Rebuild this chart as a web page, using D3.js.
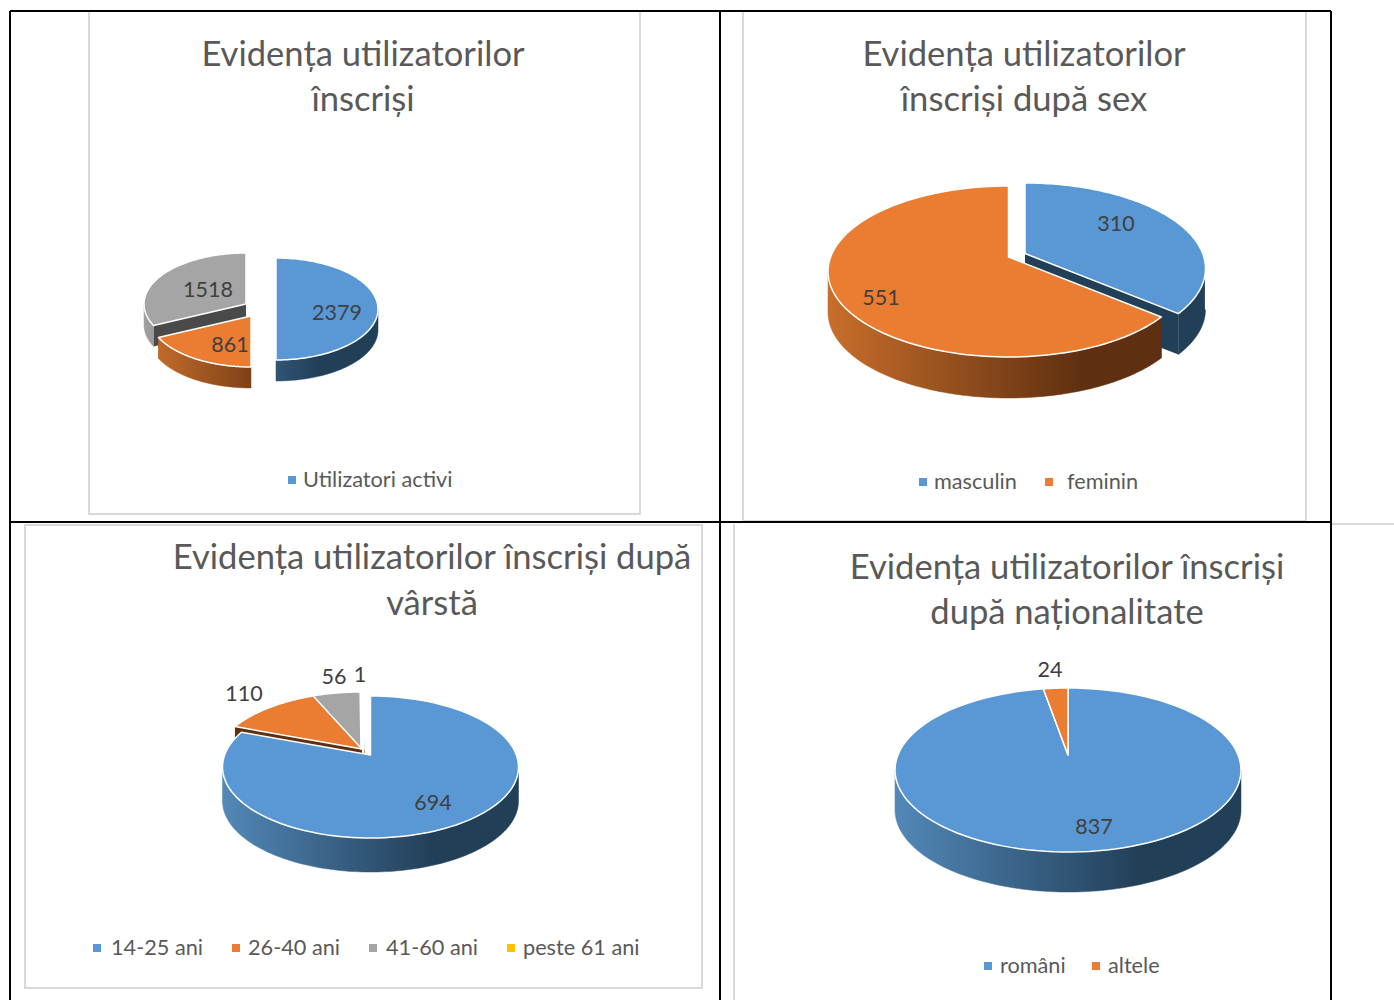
<!DOCTYPE html>
<html><head><meta charset="utf-8">
<script src="https://cdn.jsdelivr.net/npm/d3@7/dist/d3.min.js"></script>
<style>html,body{margin:0;padding:0;background:#fff;overflow:hidden}svg{display:block}text{font-family:Lato,"Open Sans",sans-serif}</style>
</head><body><svg id="c" width="1394" height="1000"></svg>
<script>
// ---- data ----
const activeCategories = ["Utilizatori activi"];
const activeValues = [2379, 861, 1518];
const sexCategories = ["masculin", "feminin"];
const sexValues = [310, 551];
const ageCategories = ["14-25 ani", "26-40 ani", "41-60 ani", "peste 61 ani"];
const ageValues = [694, 110, 56, 1];
const nationCategories = ["români", "altele"];
const nationValues = [837, 24];
const titleActive = ["Evidența utilizatorilor", "înscriși"];
const titleSex = ["Evidența utilizatorilor", "înscriși după sex"];
const titleAge = ["Evidența utilizatorilor înscriși după", "vârstă"];
const titleNation = ["Evidența utilizatorilor înscriși", "după naționalitate"];

// ---- styles ----
const FACE = ["#5a98d5", "#ea7d31", "#a5a5a5", "#ffc000"];
const WALL_L = ["#5288b8", "#c86e2b", "#a0a0a0", "#c09000"];
const WALL_R = ["#223f58", "#5e2f10", "#4a4a4a", "#604800"];
const INNER = ["#223f58", "#5e2f10", "#4a4a4a", "#604800"];

// ---- layout ----
const charts = [
 {values:activeValues, title:titleActive, titleX:363, titleY:[66,111], rx:102, ry:51, depth:21, order:[2,1,0],
  centers:[[276,309,0],[251,316,0],[246,304,0]],
  labels:[[337,312],[230,344],[208,289]],
  legend:activeCategories, legendColor:[0], legendY:480, legendMark:[288], legendText:[303]},
 {values:sexValues, title:titleSex, titleX:1024, titleY:[66,111], rx:180.5, ry:85.5, depth:41, order:[0,1], corner:true,
  centers:[[1025,268.5,-15],[1008.5,271.5,-14.5]],
  labels:[[1116,223],[881,297]],
  legend:sexCategories, legendColor:[0,1], legendY:482, legendMark:[919,1045], legendText:[934,1067]},
 {values:ageValues, title:titleAge, titleX:432, titleY:[569,615], rx:148, ry:71, depth:34, order:[3,2,1,0],
  centers:[[370.5,767,-12],[362,763,-14],[361,763,-14],[365,763,-14]],
  labels:[[433,802],[244,693],[334,676],[360,674]],
  legend:ageCategories, legendColor:[0,1,2,3], legendY:948, legendMark:[93,232,369,507], legendText:[111,248,386,523]},
 {values:nationValues, title:titleNation, titleX:1067, titleY:[579,624], rx:173, ry:82, depth:40, order:[0,1],
  centers:[[1068,770,-15],[1068,770,-15]],
  labels:[[1094,826],[1050,669]],
  legend:nationCategories, legendColor:[0,1], legendY:966, legendMark:[984,1092], legendText:[1000,1108]}
];
const boxes = [[89,11,551,503],[743,11,563,510],[25,525,677,463]];
const svg = d3.select("#c"), defs = svg.append("defs");

// chart frames
svg.selectAll("rect.box").data(boxes).join("rect").attr("class","box")
  .attr("x",d=>d[0]).attr("y",d=>d[1]).attr("width",d=>d[2]).attr("height",d=>d[3])
  .attr("fill","#fff").attr("stroke","#d9d9d9").attr("stroke-width",2);
const rule = (x1,y1,x2,y2,c,w)=>svg.append("line").attr("x1",x1).attr("y1",y1).attr("x2",x2).attr("y2",y2).attr("stroke",c).attr("stroke-width",w);
rule(734,524,734,1000,"#d9d9d9",2);
rule(1331,524,1394,524,"#d9d9d9",2);

const TAU = Math.PI*2;
const pie = d3.pie().sort(null).value(d=>d).startAngle(0).endAngle(TAU);
const line = d3.line();

// true pie angle -> angle on the projected rim; the apex sits above the ellipse centre
function rimAngle(theta,h){
  if (theta>=TAU-1e-9) return TAU;
  if (theta<=1e-9) return 0;
  const ux=Math.sin(theta), uy=-Math.cos(theta), pu=h*uy;
  const t=-pu+Math.sqrt(pu*pu-h*h+1);
  let a=Math.atan2(ux*t,-(h+uy*t));
  return a<0?a+TAU:a;
}

charts.forEach((ch,ci)=>{
  const g = svg.append("g");
  const wallLayer = g.append("g"), faceLayer = g.append("g");
  const arcs = pie(ch.values);
  ch.order.forEach(i=>{
    const [cx,cy,ady]=ch.centers[i], a=arcs[i], {rx,ry,depth}=ch;
    const h=ady/ry, p0=rimAngle(a.startAngle,h), p1=rimAngle(a.endAngle,h);
    const pt=f=>[cx+rx*Math.sin(f), cy-ry*Math.cos(f)];
    const sweep=d3.scaleLinear().domain([0,1]);
    const samples=(f0,f1)=>{sweep.range([f0,f1]);return d3.range(0,1.0001,1/120).map(t=>pt(sweep(t)));};
    const apex=[cx,cy+ady];
    const down=p=>[p[0],p[1]+depth];
    // inner cut walls
    [p0,p1].forEach(f=>{
      const r=pt(f);
      if (Math.abs(Math.sin(f))<1e-6) return;
      wallLayer.append("path").attr("d",line([apex,r,down(r),down(apex)])+"Z").attr("fill",INNER[i]);
    });
    // outer wall, front half only
    const w0=Math.max(p0,Math.PI/2), w1=Math.min(p1,Math.PI*1.5);
    if (w1>w0){
      const id=`grad${ci}-${i}`;
      const gr=defs.append("linearGradient").attr("id",id).attr("gradientUnits","userSpaceOnUse")
        .attr("x1",cx-rx).attr("x2",cx+0.42*rx).attr("y1",0).attr("y2",0);
      gr.append("stop").attr("offset",0).attr("stop-color",WALL_L[i]);
      gr.append("stop").attr("offset",1).attr("stop-color",WALL_R[i]);
      const top=samples(w0,w1);
      wallLayer.append("path").attr("d",line(top.concat(top.slice().reverse().map(down)))+"Z")
        .attr("fill",`url(#${id})`).attr("stroke",`url(#${id})`).attr("stroke-width",0.5);
      if (ch.corner && i===0){
        const c=pt(w0);
        wallLayer.append("path").attr("d",line([c,down(c)])).attr("stroke","#fff").attr("stroke-width",1.2).attr("fill","none");
      }
    }
    // top face
    faceLayer.append("path").attr("d",line([apex].concat(samples(p0,p1)))+"Z")
      .attr("fill",FACE[i]).attr("stroke","#fff").attr("stroke-width",1.5).attr("stroke-linejoin","round");
  });
  // data labels
  g.selectAll("text.lab").data(ch.values).join("text").attr("class","lab")
    .attr("x",(d,i)=>ch.labels[i][0]).attr("y",(d,i)=>ch.labels[i][1]+7.5)
    .attr("text-anchor","middle").attr("font-size",21.5).attr("fill","#404040").text(d=>d);
  // title
  g.selectAll("text.tt").data(ch.title).join("text").attr("class","tt")
    .attr("x",ch.titleX).attr("y",(d,i)=>ch.titleY[i])
    .attr("text-anchor","middle").attr("font-size",34.6).attr("fill","#595959").text(d=>d);
  // legend
  ch.legend.forEach((name,k)=>{
    g.append("rect").attr("x",ch.legendMark[k]).attr("y",ch.legendY-4).attr("width",8).attr("height",8).attr("fill",FACE[ch.legendColor[k]]);
    g.append("text").attr("x",ch.legendText[k]).attr("y",ch.legendY+7).attr("font-size",21.7).attr("fill","#595959").text(name);
  });
});

// table borders
[[10,11,10,1000],[720,11,720,1000],[1331,11,1331,1000],[10,11,1331,11],[10,522,1331,522]]
  .forEach(d=>rule(d[0],d[1],d[2],d[3],"#000",2));
</script></body></html>
